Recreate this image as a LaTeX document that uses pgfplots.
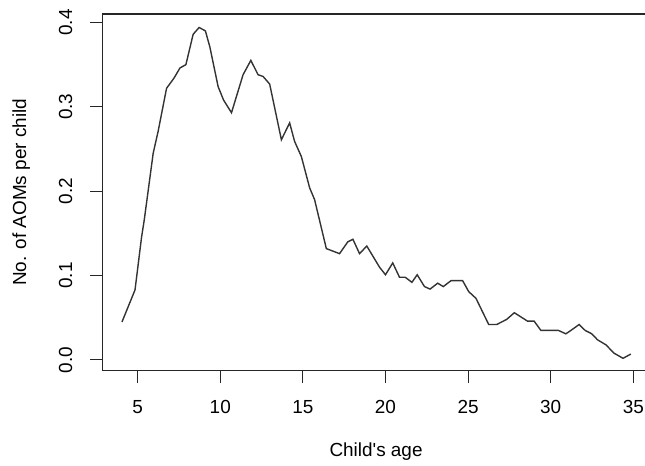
\documentclass[border=0pt]{standalone}
\usepackage{fontspec}
\setmainfont{Liberation Sans}
\usepackage{pgfplots}
\pgfplotsset{compat=1.18}

\begin{document}
\begin{tikzpicture}
\begin{axis}[
    name=ax,
    scale only axis,
    width=547.5bp,
    height=356.7bp,
    xmin=2.86, xmax=36.0,
    ymin=-0.0127, ymax=0.4100,
    xtick={5,10,15,20,25,30,35},
    ytick={0,0.1,0.2,0.3,0.4},
    tick align=outside,
    xtick pos=left,
    ytick pos=left,
    major tick length=12.5bp,
    every tick/.style={black!85, line width=1bp},
    axis line style={black!85, line width=1.1bp},
    font=\fontsize{19}{22}\selectfont,
    /pgf/number format/assume math mode=true,
    yticklabel style={/pgf/number format/fixed, /pgf/number format/fixed zerofill,
        /pgf/number format/precision=1, rotate=90, anchor=south},
    xticklabel shift=14bp,
    yticklabel shift=14bp,
    xlabel={Child\textquotesingle s age},
    ylabel={No. of AOMs per child},
    xlabel shift=22bp,
    ylabel shift=22bp,
]
\addplot[black!80, line width=1.4bp] coordinates {
(4.05,0.045) (4.84,0.083) (5.24,0.146) (5.40,0.166) (5.94,0.245)
(6.24,0.271) (6.75,0.322) (7.20,0.334) (7.56,0.346) (7.92,0.350)
(8.36,0.386) (8.72,0.394) (9.10,0.390) (9.37,0.371) (9.87,0.324)
(10.20,0.308) (10.68,0.293) (11.38,0.338) (11.85,0.355) (12.29,0.338)
(12.59,0.336) (12.99,0.327) (13.70,0.261) (14.20,0.281) (14.50,0.259)
(14.91,0.241) (15.41,0.204) (15.71,0.190) (16.42,0.132) (17.22,0.126)
(17.72,0.140) (18.03,0.143) (18.43,0.126) (18.87,0.135) (19.64,0.110)
(20.00,0.101) (20.44,0.115) (20.85,0.098) (21.20,0.098) (21.60,0.092)
(21.92,0.101) (22.36,0.087) (22.70,0.084) (23.16,0.091) (23.50,0.087)
(23.97,0.094) (24.67,0.094) (25.04,0.081) (25.48,0.073) (26.25,0.042)
(26.73,0.042) (27.33,0.048) (27.80,0.056) (28.20,0.051) (28.60,0.046)
(29.00,0.046) (29.41,0.035) (30.47,0.035) (30.92,0.031) (31.22,0.035)
(31.72,0.042) (32.09,0.035) (32.49,0.031) (32.83,0.024) (33.34,0.018)
(33.84,0.008) (34.38,0.002) (34.85,0.007)
};
\end{axis}
\pgfresetboundingbox
\useasboundingbox ([xshift=-102.3bp,yshift=-95.3bp]ax.south west) rectangle ([xshift=542.7bp,yshift=370.7bp]ax.south west);
\end{tikzpicture}
\end{document}
